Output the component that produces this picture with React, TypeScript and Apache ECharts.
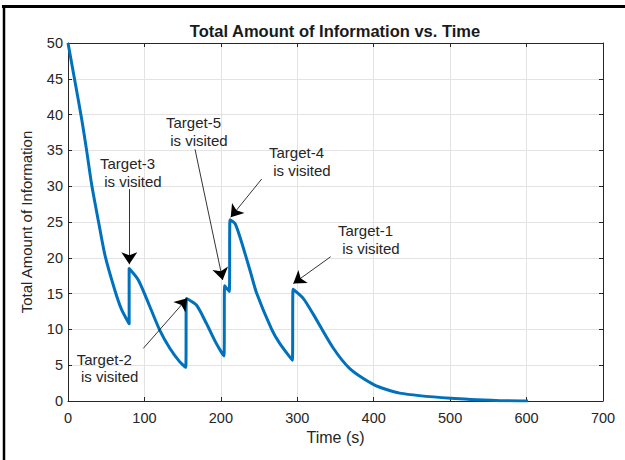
import React, { useEffect, useRef } from "react";
import * as echarts from "echarts";

// Curve (time in s, total amount of information)
const timeS = [
  0, 9, 18, 24.5, 31, 40, 48.5, 61.5, 70, 80,
  80, 92, 107, 120, 133, 146, 154,
  155, 168, 181, 194, 204,
  205, 211, 212, 218.5, 225, 238, 247, 266.5, 277, 293.5,
  294.5, 308, 321, 347, 369, 400, 434, 501, 565, 602,
];
const info = [
  50, 44.7, 39.3, 34.9, 30.2, 25.0, 20.3, 15.4, 12.8, 10.8,
  18.5, 16.9, 13.2, 9.9, 7.4, 5.5, 4.7,
  14.3, 13.4, 10.85, 8.05, 6.3,
  16.1, 15.3, 25.3, 24.8, 22.9, 18.3, 15.0, 10.0, 8.05, 5.7,
  15.6, 14.3, 12.1, 7.4, 4.5, 2.3, 1.1, 0.37, 0.05, 0,
];

// Annotations (data coordinates)
const targetNames = ["Target-3", "Target-5", "Target-4", "Target-1", "Target-2"];
const labelT = [41.9, 128.2, 263, 353.3, 11.4];
const labelV = [31.9, 37.6, 33.45, 22.56, 4.62];
const arrowTailT = [80.2, 166.2, 253.4, 343.7, 98.5];
const arrowTailV = [29.6, 35.15, 31.0, 20.15, 7.35];
const arrowHeadT = [80.2, 202.4, 212.9, 294.8, 156.1];
const arrowHeadV = [19.1, 16.9, 25.66, 16.4, 14.34];

const FONT = '"Liberation Sans", Arial, Helvetica, sans-serif';
const INK = "#262626";

export default function App() {
  const ref = useRef<HTMLDivElement>(null);
  useEffect(() => {
    if (!ref.current) return;
    const chart = echarts.init(ref.current, undefined, { renderer: "svg" });
    const tick = () => ({ show: true, inside: true, length: 4, lineStyle: { color: INK, width: 1 } });
    const line = () => ({ show: true, onZero: false, lineStyle: { color: INK, width: 1 } });
    chart.setOption({
      animation: false,
      grid: { left: 68, right: 22, top: 43, bottom: 59, containLabel: false },
      xAxis: [
        {
          type: "value",
          min: 0,
          max: 700,
          interval: 100,
          position: "bottom",
          axisLine: line(),
          axisTick: tick(),
          name: "Time (s)",
          nameLocation: "middle",
          nameGap: 28,
          nameTextStyle: { fontFamily: FONT, fontSize: 16, color: INK },
          axisLabel: { fontFamily: FONT, fontSize: 14.5, color: INK, margin: 9 },
          splitLine: { show: true, lineStyle: { color: "#e3e3e3", width: 1 } },
        },
        {
          type: "value",
          min: 0,
          max: 700,
          interval: 100,
          position: "top",
          axisLine: line(),
          axisTick: tick(),
          axisLabel: { show: false },
          splitLine: { show: false },
        },
      ],
      yAxis: [
        {
          type: "value",
          min: 0,
          max: 50,
          interval: 5,
          position: "left",
          axisLine: line(),
          axisTick: tick(),
          name: "Total Amount of Information",
          nameLocation: "middle",
          nameGap: 34,
          nameTextStyle: { fontFamily: FONT, fontSize: 15, color: INK },
          axisLabel: { fontFamily: FONT, fontSize: 14.5, color: INK, margin: 5 },
          splitLine: { show: true, lineStyle: { color: "#e3e3e3", width: 1 } },
        },
        {
          type: "value",
          min: 0,
          max: 50,
          interval: 5,
          position: "right",
          axisLine: line(),
          axisTick: tick(),
          axisLabel: { show: false },
          splitLine: { show: false },
        },
      ],
      series: [
        {
          type: "line",
          xAxisIndex: 0,
          yAxisIndex: 0,
          data: timeS.map((t, i) => [t, info[i]]),
          showSymbol: false,
          symbol: "none",
          smooth: 0.25,
          lineStyle: { color: "#0072BD", width: 3, join: "round" },
          markLine: {
            silent: true,
            animation: false,
            symbol: ["none", "arrow"],
            symbolSize: 12,
            label: { show: false },
            lineStyle: { color: "#000", width: 0.8, type: "solid" },
            itemStyle: { color: "#000" },
            emphasis: { disabled: true },
            data: targetNames.map((_, i) => [
              { coord: [arrowTailT[i], arrowTailV[i]] },
              { coord: [arrowHeadT[i], arrowHeadV[i]] },
            ]),
          },
        },
      ],
    });

    const texts = targetNames.map((name, i) => {
      const p = chart.convertToPixel({ gridIndex: 0 }, [labelT[i], labelV[i]]) as number[];
      return {
        type: "text",
        x: p[0],
        y: p[1],
        silent: true,
        style: {
          text: name + "\n is visited",
          fontFamily: FONT,
          fontSize: 15,
          lineHeight: 17.7,
          fill: INK,
          align: "left",
          verticalAlign: "middle",
        },
      };
    });

    chart.setOption({
      graphic: [
        { type: "line", silent: true, shape: { x1: 2, y1: 6.5, x2: 625, y2: 6.5 }, style: { stroke: "#000", lineWidth: 3 } },
        { type: "line", silent: true, shape: { x1: 4, y1: 5, x2: 4, y2: 460 }, style: { stroke: "#000", lineWidth: 2.5 } },
        {
          type: "text",
          x: 335,
          y: 30.5,
          silent: true,
          style: {
            text: "Total Amount of Information vs. Time",
            fontFamily: FONT,
            fontSize: 16.5,
            fontWeight: "bold",
            fill: "#1a1a1a",
            align: "center",
            verticalAlign: "middle",
          },
        },
        ...texts,
      ],
    });

    return () => chart.dispose();
  }, []);
  return (
    <div
      ref={ref}
      style={{ position: "fixed", left: 0, top: 0, width: 625, height: 460, background: "#fff" }}
    />
  );
}
